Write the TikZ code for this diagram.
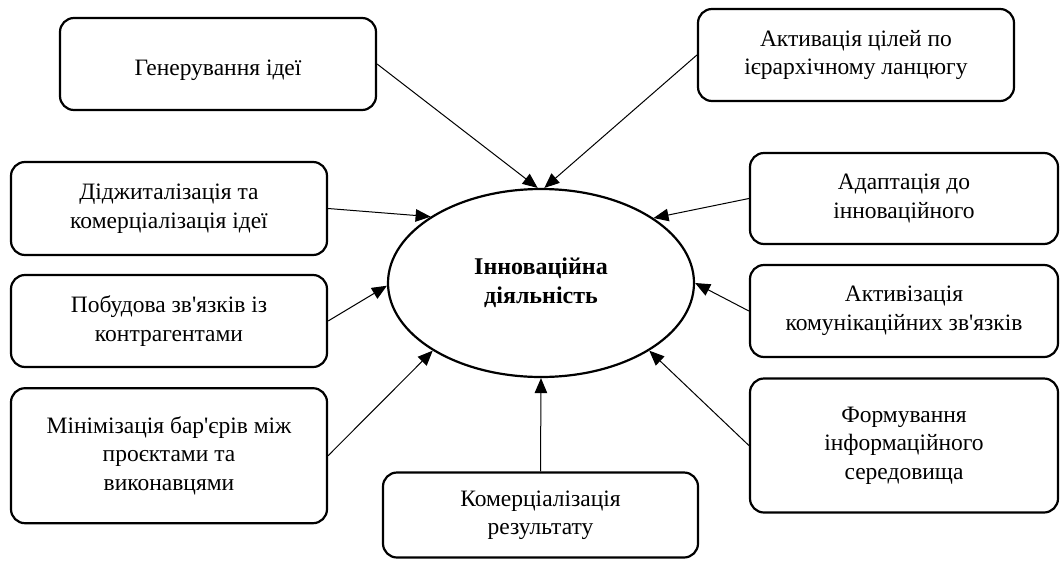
\documentclass[tikz,border=0pt]{standalone}
\usepackage{fontspec}
\setmainfont{Liberation Serif}[Ligatures=TeXOff]
\usetikzlibrary{shapes.geometric,arrows.meta}
\begin{document}
\begin{tikzpicture}[x=1pt,y=-1pt,
  box/.style={draw,line width=2.2pt,rounded corners=14pt,align=center,inner sep=0pt,
    font=\fontsize{23.5}{28.5}\selectfont,execute at begin node={\rule{0pt}{27.5pt}}},
  hub/.style={draw,ellipse,line width=2.2pt,inner sep=0pt,align=center,
    minimum width=306pt,minimum height=188pt,font=\fontsize{24}{29}\selectfont\bfseries},
  conn/.style={line width=1pt,-{Triangle[length=15pt,width=12.5pt]}}]
\useasboundingbox (0,0) rectangle (1060,560);
\node[hub] (c) at (541,283) {Інноваційна\\діяльність};
\node[box,minimum width=316pt,minimum height=92pt] (gen) at (218,64) {Генерування ідеї};
\node[box,minimum width=316pt,minimum height=92pt] (act) at (856,55) {Активація цілей по\\ієрархічному ланцюгу};
\node[box,minimum width=316pt,minimum height=93pt] (dig) at (169,208.5) {Діджиталізація та\\комерціалізація ідеї};
\node[box,minimum width=308pt,minimum height=91pt] (ada) at (904,198.5) {Адаптація до\\інноваційного};
\node[box,minimum width=316pt,minimum height=92pt] (pob) at (169,321) {Побудова зв'язків із\\контрагентами};
\node[box,minimum width=308pt,minimum height=92pt] (akt) at (904,311) {Активізація\\комунікаційних зв'язків};
\node[box,minimum width=316pt,minimum height=135pt] (min) at (169,455.7) {Мінімізація бар'єрів між\\проєктами та\\виконавцями};
\node[box,minimum width=308pt,minimum height=134pt] (form) at (904,445.5) {Формування\\інформаційного\\середовища};
\node[box,minimum width=315pt,minimum height=85pt] (kom) at (540.5,515) {Комерціалізація\\результату};
\draw[conn] (gen.east) -- (c.92);
\draw[conn] (act.west) -- (c.88);
\draw[conn] (dig.east) -- (c.149.4);
\draw[conn] (ada.west) -- (c.30.8);
\draw[conn] (pob.east) -- (c.181);
\draw[conn] (akt.west) -- (c.0);
\draw[conn] (min.east) -- (c.212);
\draw[conn] (form.west) -- (c.328.8);
\draw[conn] (kom.north) -- (c.south);
\end{tikzpicture}
\end{document}
